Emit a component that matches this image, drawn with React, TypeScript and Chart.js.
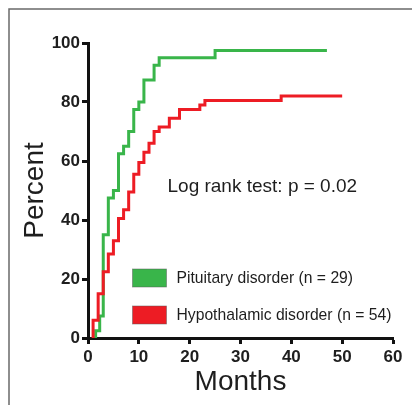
import React, { useEffect, useRef } from "react";
import { Chart, registerables } from "chart.js";

Chart.register(...registerables);

const pituitaryMonths = [1.5, 1.5, 2.3, 3, 4, 5, 6, 7, 8, 9, 10, 11, 13, 14, 25, 47];
const pituitaryPercent = [0, 2.5, 7.5, 35, 47.5, 50, 62.5, 65, 70, 77.5, 80, 87.5, 92.5, 95, 97.5, 97.5];

const hypothalamicMonths = [1, 1, 2, 3, 4, 5, 6, 7, 8, 9, 10, 11, 12, 13, 14, 16, 18, 22, 23, 38, 50];
const hypothalamicPercent = [0, 6, 15, 22.5, 28.5, 33, 40.5, 43.5, 49.5, 55.5, 59.5, 63, 66, 70, 71.5, 74.5, 77.5, 79, 80.5, 82, 82];

const seriesLabels = ["Pituitary disorder (n = 29)", "Hypothalamic disorder (n = 54)"];
const annotationText = "Log rank test: p = 0.02";
const xTitle = "Months";
const yTitle = "Percent";

const GREEN = "#39B54A";
const RED = "#ED1C24";
const FONT = "'Liberation Sans', Arial, Helvetica, sans-serif";
const INK = "#1e1e1e";

const overlayPlugin = {
  id: "overlay",
  afterDraw(chart: any) {
    const ctx = chart.ctx as CanvasRenderingContext2D;
    ctx.save();
    // frame
    ctx.strokeStyle = "#6a6a6a";
    ctx.lineWidth = 1.5;
    ctx.beginPath();
    ctx.moveTo(9, 405);
    ctx.lineTo(9, 9);
    ctx.lineTo(412, 9);
    ctx.stroke();

    // annotation
    ctx.fillStyle = INK;
    ctx.font = `19px ${FONT}`;
    ctx.textAlign = "left";
    ctx.textBaseline = "alphabetic";
    ctx.fillText(annotationText, 167.5, 191.5);

    // legend
    const items = [
      { color: GREEN, label: seriesLabels[0], top: 269 },
      { color: RED, label: seriesLabels[1], top: 306 },
    ];
    for (const it of items) {
      ctx.fillStyle = it.color;
      ctx.fillRect(132.5, it.top, 34, 18);
      ctx.strokeStyle = "rgba(90,90,90,0.6)";
      ctx.lineWidth = 0.8;
      ctx.strokeRect(132.5, it.top, 34, 18);
      ctx.fillStyle = INK;
      ctx.font = `15.7px ${FONT}`;
      ctx.textBaseline = "middle";
      ctx.fillText(it.label, 176.5, it.top + 9.5);
    }
    ctx.restore();
  },
};

export default function App() {
  const ref = useRef<HTMLCanvasElement>(null);

  useEffect(() => {
    if (!ref.current) return;
    const tickFont = { family: FONT, size: 17, weight: "bold" as const };
    const chart = new Chart(ref.current, {
      type: "line",
      data: {
        datasets: [
          {
            label: seriesLabels[1],
            data: hypothalamicMonths.map((x, i) => ({ x, y: hypothalamicPercent[i] })),
            borderColor: RED,
            backgroundColor: RED,
            borderWidth: 3,
            stepped: true,
            pointRadius: 0,
            fill: false,
            clip: false as any,
          },
          {
            label: seriesLabels[0],
            data: pituitaryMonths.map((x, i) => ({ x, y: pituitaryPercent[i] })),
            borderColor: GREEN,
            backgroundColor: GREEN,
            borderWidth: 3,
            stepped: true,
            pointRadius: 0,
            fill: false,
            clip: false as any,
          },
        ],
      },
      options: {
        animation: false,
        responsive: false,
        devicePixelRatio: 1,
        layout: { padding: { left: 0, top: 43, right: 19, bottom: 0 } },
        plugins: { legend: { display: false }, tooltip: { enabled: false } },
        scales: {
          x: {
            type: "linear",
            min: 0,
            max: 60,
            ticks: { stepSize: 10, font: tickFont, color: INK, padding: 3 },
            grid: { drawOnChartArea: false, drawTicks: true, tickLength: 6, tickWidth: 3, tickColor: "#111" },
            border: { display: true, width: 3, color: "#111" },
            title: {
              display: true,
              text: xTitle,
              color: INK,
              font: { family: FONT, size: 28, lineHeight: 1 },
              padding: { top: 0, bottom: 8.5 },
            },
            afterFit: (s: any) => {
              s.height = 67;
            },
          },
          y: {
            type: "linear",
            min: 0,
            max: 100,
            ticks: { stepSize: 20, font: tickFont, color: INK, padding: 2 },
            grid: { drawOnChartArea: false, drawTicks: true, tickLength: 6, tickWidth: 3, tickColor: "#111" },
            border: { display: true, width: 3, color: "#111" },
            title: {
              display: true,
              text: yTitle,
              color: INK,
              font: { family: FONT, size: 28, lineHeight: 1 },
              padding: { top: 21, bottom: 0 },
            },
            afterFit: (s: any) => {
              s.width = 88;
            },
          },
        },
      },
      plugins: [overlayPlugin],
    });
    return () => chart.destroy();
  }, []);

  return (
    <div style={{ position: "absolute", left: 0, top: 0, width: 412, height: 405, background: "#fff" }}>
      <canvas ref={ref} width={412} height={405} style={{ width: 412, height: 405, display: "block" }} />
    </div>
  );
}
